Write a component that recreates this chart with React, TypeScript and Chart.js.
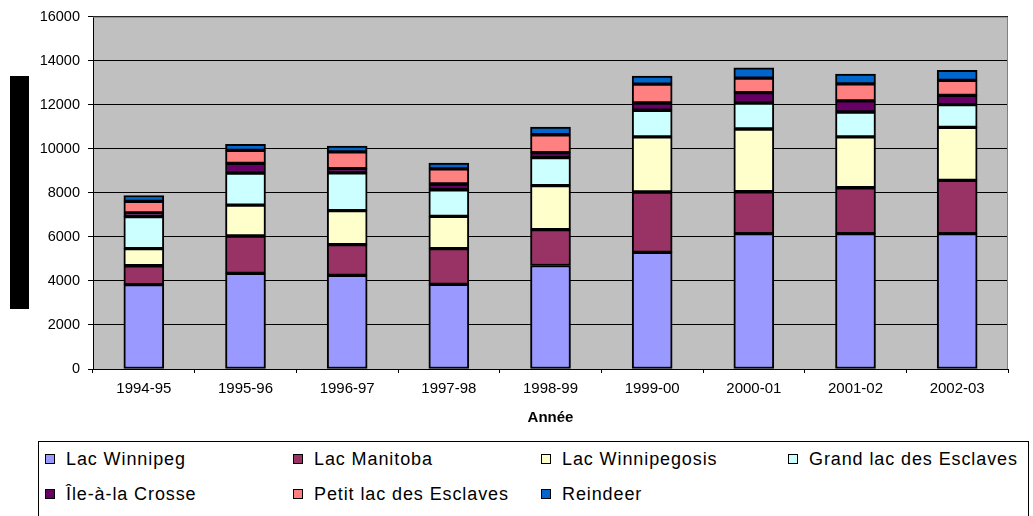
import React, { useEffect, useRef } from "react";
import { Chart, registerables } from "chart.js";

Chart.register(...registerables);

const categories = ["1994-95", "1995-96", "1996-97", "1997-98", "1998-99", "1999-00", "2000-01", "2001-02", "2002-03"];
const lacWinnipeg = [3830, 4340, 4250, 3840, 4700, 5300, 6150, 6150, 6150];
const lacManitoba = [860, 1700, 1400, 1630, 1630, 2740, 1900, 2080, 2420];
const lacWinnipegosis = [780, 1400, 1540, 1460, 2000, 2500, 2850, 2310, 2400];
const grandLacDesEsclaves = [1450, 1460, 1720, 1210, 1270, 1210, 1180, 1130, 1040];
const ileALaCrosse = [170, 440, 190, 260, 230, 330, 470, 510, 420];
const petitLacDesEsclaves = [520, 590, 760, 690, 810, 860, 660, 770, 680];
const reindeer = [270, 270, 260, 260, 350, 360, 470, 440, 450];

const seriesNames = [
  "Lac Winnipeg",
  "Lac Manitoba",
  "Lac Winnipegosis",
  "Grand lac des Esclaves",
  "Île-à-la Crosse",
  "Petit lac des Esclaves",
  "Reindeer",
];
const seriesValues = [lacWinnipeg, lacManitoba, lacWinnipegosis, grandLacDesEsclaves, ileALaCrosse, petitLacDesEsclaves, reindeer];
const seriesColors = ["#9999FF", "#993366", "#FFFFCC", "#CCFFFF", "#660066", "#FF8080", "#0066CC"];

const yMin = 0;
const yMax = 16000;
const yStep = 2000;
const xTitle = "Année";

const FONT = "'Liberation Sans', Arial, sans-serif";

const plotBg = {
  id: "plotBg",
  beforeDraw(chart: any) {
    const { ctx, chartArea } = chart;
    ctx.save();
    ctx.fillStyle = "#C0C0C0";
    ctx.fillRect(chartArea.left, chartArea.top, chartArea.right - chartArea.left, chartArea.bottom - chartArea.top);
    ctx.restore();
  },
  afterDatasetsDraw(chart: any) {
    const { ctx, chartArea } = chart;
    ctx.save();
    ctx.strokeStyle = "#808080";
    ctx.lineWidth = 1;
    ctx.beginPath();
    ctx.moveTo(chartArea.left, chartArea.top + 0.5);
    ctx.lineTo(chartArea.right - 0.5, chartArea.top + 0.5);
    ctx.lineTo(chartArea.right - 0.5, chartArea.bottom);
    ctx.stroke();
    ctx.restore();
  },
};

function ChartCanvas() {
  const ref = useRef<HTMLCanvasElement>(null);
  useEffect(() => {
    if (!ref.current) return;
    const chart = new Chart(ref.current, {
      type: "bar",
      data: {
        labels: categories,
        datasets: seriesNames.map((name, i) => ({
          label: name,
          data: seriesValues[i],
          backgroundColor: seriesColors[i],
          borderColor: "#000000",
          borderWidth: 2,
          borderSkipped: false,
          barThickness: 40,
        })),
      },
      options: {
        responsive: false,
        animation: false,
        events: [],
        layout: { padding: { left: 0, top: 14, right: 25, bottom: 0 } },
        plugins: {
          legend: { display: false },
          tooltip: { enabled: false },
          title: { display: false },
        },
        scales: {
          x: {
            stacked: true,
            offset: true,
            grid: {
              offset: true,
              drawOnChartArea: false,
              drawTicks: true,
              tickLength: 4,
              color: "#000000",
            },
            border: { display: true, color: "#000000", width: 1 },
            ticks: {
              color: "#000000",
              font: { family: FONT, size: 15 },
              padding: 7,
              maxRotation: 0,
              autoSkip: false,
            },
            title: {
              display: true,
              text: xTitle,
              color: "#000000",
              font: { family: FONT, size: 15, weight: "bold" },
              padding: { top: 0, bottom: 13 },
            },
            afterFit(scale: any) {
              scale.height = 71;
            },
          },
          y: {
            stacked: true,
            min: yMin,
            max: yMax,
            ticks: {
              stepSize: yStep,
              color: "#000000",
              font: { family: FONT, size: 14.5 },
              padding: 8,
              callback: (v: any) => String(v),
            },
            grid: {
              color: "#000000",
              lineWidth: 1,
              drawTicks: true,
              tickLength: 5,
            },
            border: { display: true, color: "#000000", width: 1 },
            afterFit(scale: any) {
              scale.width = 93;
            },
          },
        },
      },
      plugins: [plotBg],
    });
    return () => chart.destroy();
  }, []);
  return <canvas ref={ref} width={1033} height={440} style={{ display: "block" }} />;
}

const legendCols = [45, 293, 541, 788];
const legendRows = [459, 494];

export default function App() {
  return (
    <div
      style={{
        position: "fixed",
        left: 0,
        top: 0,
        width: 1033,
        height: 516,
        background: "#ffffff",
        overflow: "hidden",
        fontFamily: FONT,
      }}
    >
      <ChartCanvas />
      <div style={{ position: "absolute", left: 10, top: 76, width: 19, height: 233, background: "#000" }} />
      <div
        style={{
          position: "absolute",
          left: 38,
          top: 441,
          width: 991,
          height: 90,
          border: "1px solid #000",
          boxSizing: "border-box",
        }}
      />
      {seriesNames.map((name, i) => {
        const col = i % 4;
        const row = Math.floor(i / 4);
        const x = legendCols[col];
        const y = legendRows[row];
        return (
          <React.Fragment key={name}>
            <div
              style={{
                position: "absolute",
                left: x,
                top: y - 5,
                width: 10,
                height: 10,
                boxSizing: "border-box",
                border: "1px solid #000",
                background: seriesColors[i],
              }}
            />
            <div
              style={{
                position: "absolute",
                left: x + 21,
                top: y - 11,
                height: 22,
                lineHeight: "22px",
                fontSize: 18,
                letterSpacing: "0.9px",
                color: "#000",
                whiteSpace: "nowrap",
              }}
            >
              {name}
            </div>
          </React.Fragment>
        );
      })}
    </div>
  );
}
